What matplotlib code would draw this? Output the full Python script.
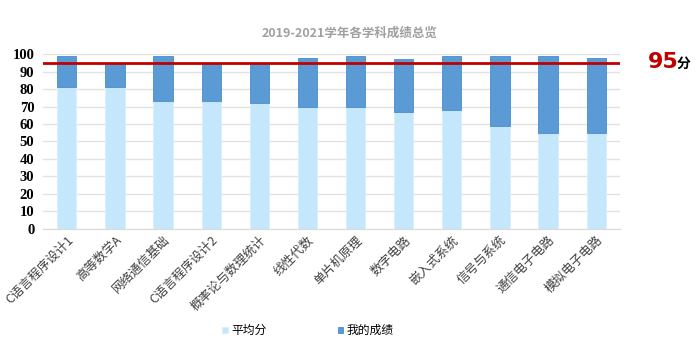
import matplotlib
matplotlib.use('Agg')
import matplotlib.pyplot as plt
import numpy as np

plt.rcParams['font.family'] = ['Noto Sans CJK SC', 'DejaVu Sans']

subjects = ['C语言程序设计1', '高等数学A', '网络通信基础', 'C语言程序设计2', '概率论与数理统计',
            '线性代数', '单片机原理', '数字电路', '嵌入式系统', '信号与系统', '通信电子电路', '模拟电子电路']
avg_scores = [81, 81, 73, 73, 72, 70, 70, 67, 68, 59, 55, 55]
my_scores = [99, 95, 99, 95, 95, 98, 99, 97, 99, 99, 99, 98]
target = 95
yticks = list(range(0, 101, 10))

light = '#C5E7FB'
dark = '#5B9BD5'

fig = plt.figure(figsize=(7, 3.54), dpi=100)
ax = fig.add_axes([0.061, 0.354, 0.825, 0.493])

x = np.arange(len(subjects))
# the dark part sits on the average, so its height is the gap to my score
diff = [m - a for m, a in zip(my_scores, avg_scores)]
ax.bar(x, avg_scores, width=0.4, color=light, edgecolor='#D8EFFC', linewidth=0.6, zorder=2, label='平均分')
ax.bar(x, diff, bottom=avg_scores, width=0.4, color=dark, edgecolor='#4A8CCB', linewidth=0.6, zorder=2, label='我的成绩')
ax.axhline(target, color='#C00000', linewidth=2, zorder=3)

ax.set_xlim(-0.5, len(subjects) - 0.5)
ax.set_ylim(0, 100)
ax.set_yticks(yticks)
ax.set_yticklabels([str(t) for t in yticks], family='Liberation Serif', fontweight='bold', fontsize=10.5)
ax.grid(axis='y', color='#E2E2E2', linewidth=1, zorder=0)
for s in ['top', 'right', 'left']:
    ax.spines[s].set_visible(False)
ax.spines['bottom'].set_color('#D9D9D9')
ax.tick_params(axis='both', length=0)
ax.tick_params(axis='y', pad=6)
ax.set_xticks(x)
ax.set_xticklabels(subjects, rotation=45, ha='right', rotation_mode='anchor', fontsize=9, color='#404040')

fig.text(0.5, 0.905, '2019-2021学年各学科成绩总览', ha='center', va='center',
         fontsize=9, fontweight='bold', color='#A0A0A0')
fig.text(0.925, 0.825, '95', ha='left', va='center', fontsize=16, fontweight='bold', color='#C00000',
         family=['DejaVu Sans'])
fig.text(0.967, 0.82, '分', ha='left', va='center', fontsize=10, fontweight='bold', color='black')

fig.legend(loc='center', bbox_to_anchor=(0.44, 0.066), ncol=2, frameon=False, fontsize=8.5,
           handlelength=0.5, handleheight=0.5, columnspacing=6, handletextpad=0.3)

fig.savefig('out.png', dpi=100)
